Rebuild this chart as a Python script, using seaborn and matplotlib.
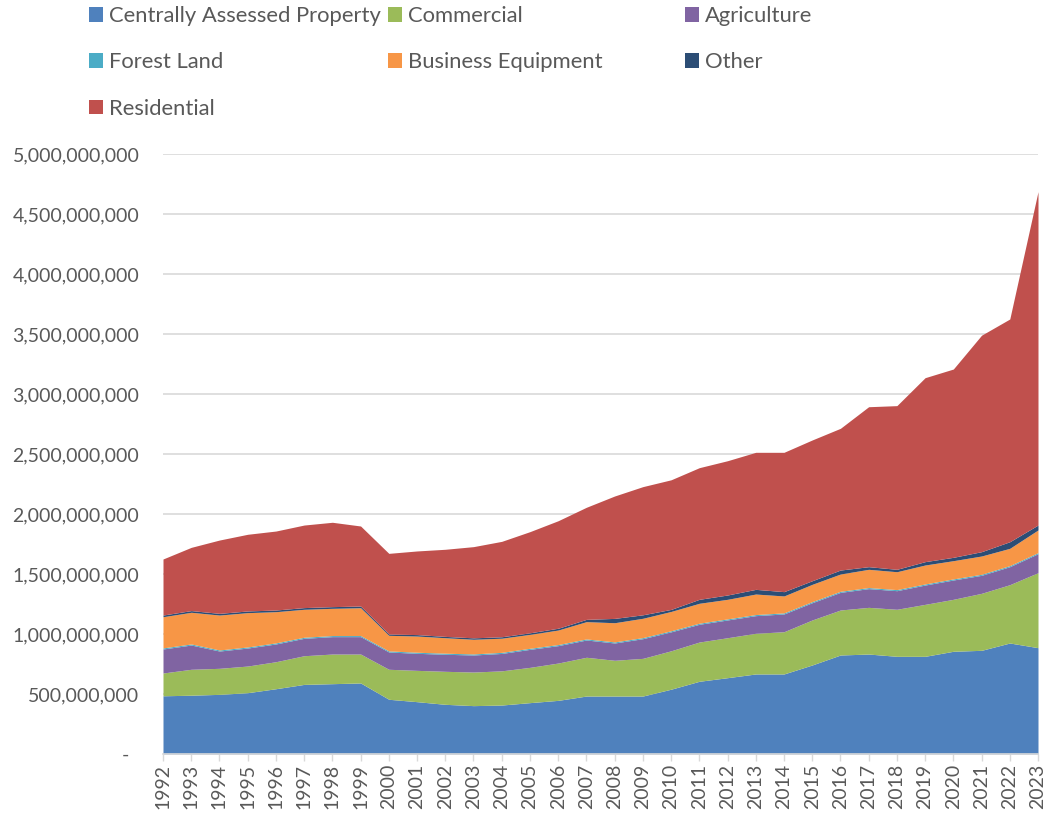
import numpy as np
import pandas as pd
import matplotlib
matplotlib.use("Agg")
import matplotlib.pyplot as plt
import seaborn as sns
from matplotlib.ticker import FuncFormatter, MultipleLocator

years = list(range(1992, 2024))

# values in millions (stack order bottom -> top)
centrally_assessed = [485, 490, 497, 511, 544, 580, 586, 592, 456, 436, 414, 403, 408, 428, 447, 483,
                      483, 483, 540, 606, 636, 667, 667, 742, 825, 833, 814, 814, 856, 864, 925, 886]
commercial = [190, 216, 217, 222, 225, 239, 247, 241, 250, 261, 275, 280, 285, 294, 311, 323,
              298, 314, 320, 327, 333, 339, 352, 375, 375, 389, 392, 433, 433, 475, 486, 625]
agriculture = [200, 202, 144, 150, 148, 145, 145, 145, 144, 142, 142, 142, 145, 150, 145, 144,
               144, 164, 158, 148, 148, 147, 148, 144, 147, 156, 155, 161, 161, 150, 150, 158]
forest_land = [9, 9, 9, 9, 9, 9, 9, 9, 9, 9, 9, 9, 9, 9, 9, 9,
               9, 9, 9, 9, 9, 9, 9, 9, 9, 9, 9, 9, 9, 9, 9, 9]
business_equipment = [260, 264, 291, 286, 260, 233, 227, 232, 130, 135, 129, 122, 118, 116, 121, 144,
                      160, 161, 161, 166, 163, 171, 141, 144, 144, 152, 149, 158, 152, 152, 144, 189]
other = [14, 14, 14, 14, 14, 14, 14, 14, 11, 12, 11, 12, 12, 13, 15, 19,
         36, 29, 17, 33, 36, 39, 36, 30, 33, 22, 20, 28, 28, 36, 55, 41]
residential = [467, 527, 611, 639, 658, 688, 703, 667, 672, 697, 726, 760, 795, 843, 896, 934,
               1020, 1068, 1080, 1097, 1119, 1142, 1161, 1173, 1181, 1333, 1364, 1533, 1569, 1804, 1856, 2778]

series_names = ["Centrally Assessed Property", "Commercial", "Agriculture", "Forest Land",
                "Business Equipment", "Other", "Residential"]
series_colors = ["#4F81BD", "#9BBB59", "#8064A2", "#4BACC6", "#F79646", "#2C4D75", "#C0504D"]

df = pd.DataFrame({
    "Centrally Assessed Property": centrally_assessed,
    "Commercial": commercial,
    "Agriculture": agriculture,
    "Forest Land": forest_land,
    "Business Equipment": business_equipment,
    "Other": other,
    "Residential": residential,
}, index=years) * 1e6

sns.set_theme(style="white")
plt.rcParams['font.family'] = ['Lato', 'DejaVu Sans']
text_color = '#595959'
grid_color = '#D9D9D9'

W, H = 1052, 813
fig = plt.figure(figsize=(W / 100, H / 100), dpi=100)
ax = fig.add_axes([163 / W, 1 - 754 / H, (1038 - 163) / W, 600 / H])

polys = ax.stackplot(df.index, *[df[c] for c in series_names],
                     colors=series_colors, labels=series_names, linewidth=0)

ax.set_xlim(1992, 2023)
ax.set_ylim(0, 5e9)
ax.yaxis.set_major_locator(MultipleLocator(5e8))
ax.yaxis.set_major_formatter(FuncFormatter(lambda v, p: "-  " if v == 0 else f"{v:,.0f}"))
ax.yaxis.grid(True, color=grid_color, linewidth=1.2)
ax.xaxis.grid(False)
ax.set_axisbelow(True)

ax.set_xticks(years)
ax.set_xticklabels([str(y) for y in years], rotation=90)
ax.tick_params(axis='x', length=5, width=1, color=grid_color, labelcolor=text_color,
               labelsize=14, pad=2, bottom=True)
ax.tick_params(axis='y', length=0, labelcolor=text_color, labelsize=14, pad=17)

for s in ['left', 'right', 'top']:
    ax.spines[s].set_visible(False)
ax.spines['bottom'].set_color(grid_color)
ax.spines['bottom'].set_linewidth(1.2)

# legend: three fixed columns like the original
handles = dict(zip(series_names, polys))
legend_cols = [
    (89, ["Centrally Assessed Property", "Forest Land", "Residential"]),
    (388, ["Commercial", "Business Equipment"]),
    (685, ["Agriculture", "Other"]),
]
for x0, names in legend_cols:
    fig.legend([handles[n] for n in names], names, loc='upper left',
               bbox_to_anchor=(x0 / W, 1 - 6 / H), frameon=False, fontsize=15.8,
               handlelength=0.64, handleheight=0.64, handletextpad=0.25,
               labelspacing=1.2, borderpad=0, borderaxespad=0, labelcolor=text_color)

fig.savefig('out.png', dpi=100)
